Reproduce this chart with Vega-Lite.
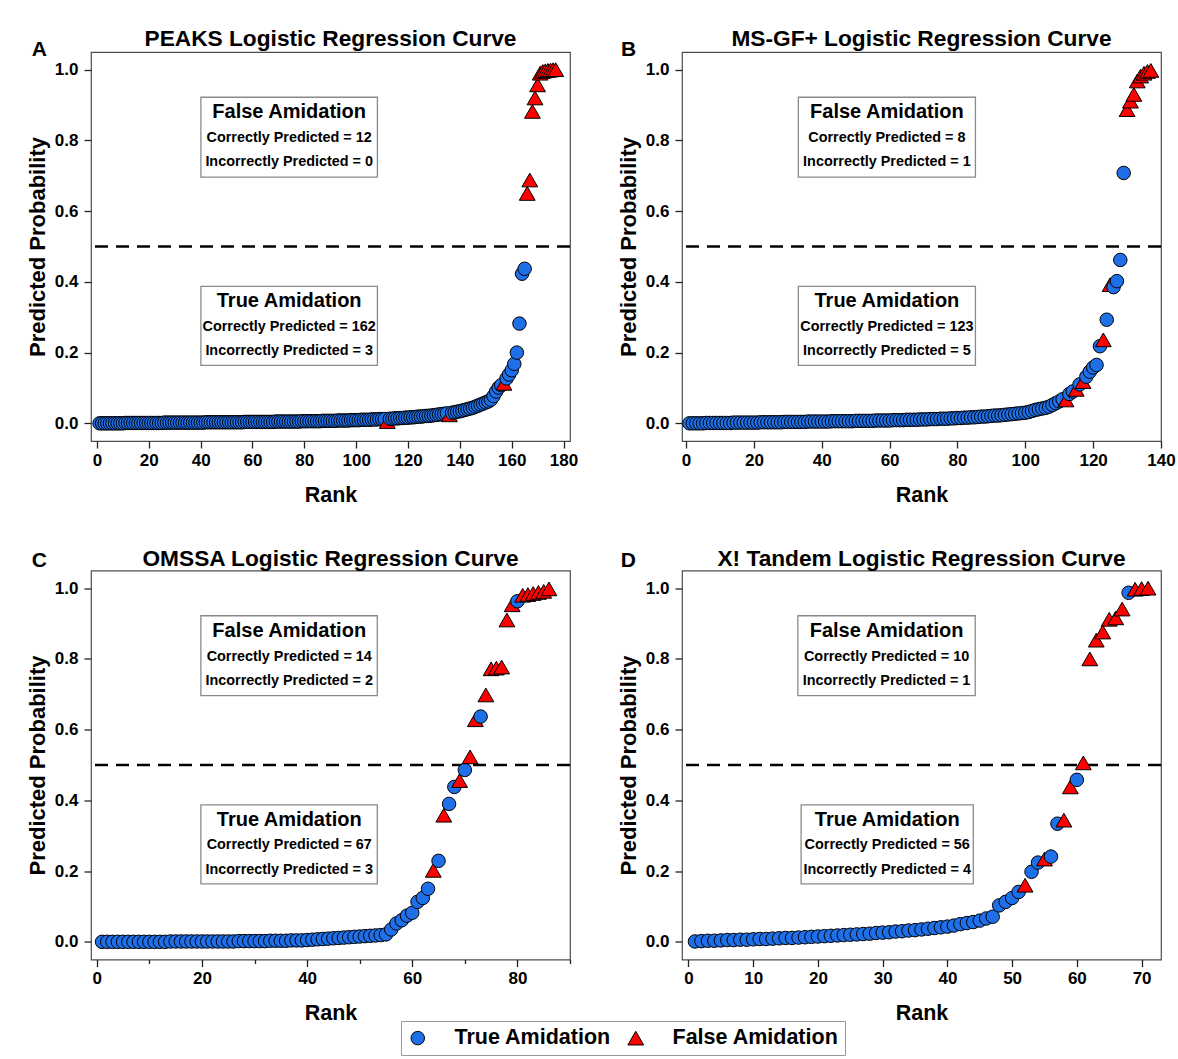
{
"$schema": "https://vega.github.io/schema/vega-lite/v6.json",
"padding": {"left": 25, "top": 27, "right": 10, "bottom": 3},
"background": "white",
"config": {
 "font": "Liberation Sans",
 "view": {"stroke": "#4d4d4d", "strokeWidth": 1.2},
 "axis": {"domain": false, "grid": false, "labelFontSize": 17, "labelFontWeight": "bold", "labelColor": "black", "titleFontWeight": "bold", "titleColor": "black", "tickColor": "#222", "tickWidth": 1.3, "tickSize": 7, "labelPadding": 4, "labelFlush": false, "labelOverlap": false},
 "axisX": {"titleFontSize": 21.5},
 "axisY": {"titleFontSize": 22},
 "title": {"fontSize": 22.7, "fontWeight": "bold", "color": "black", "anchor": "middle", "offset": 5, "baseline": "alphabetic", "frame": "group"}
},
"datasets": {
"A": [
{"r":1,"p":0.000,"t":"True"},{"r":2,"p":0.000,"t":"True"},{"r":3,"p":0.000,"t":"True"},{"r":4,"p":0.000,"t":"True"},{"r":5,"p":0.000,"t":"True"},{"r":6,"p":0.000,"t":"True"},{"r":7,"p":0.000,"t":"True"},{"r":8,"p":0.000,"t":"True"},{"r":9,"p":0.000,"t":"True"},{"r":10,"p":0.000,"t":"True"},
{"r":11,"p":0.001,"t":"True"},{"r":12,"p":0.001,"t":"True"},{"r":13,"p":0.001,"t":"True"},{"r":14,"p":0.001,"t":"True"},{"r":15,"p":0.001,"t":"True"},{"r":16,"p":0.001,"t":"True"},{"r":17,"p":0.001,"t":"True"},{"r":18,"p":0.001,"t":"True"},{"r":19,"p":0.001,"t":"True"},{"r":20,"p":0.001,"t":"True"},
{"r":21,"p":0.001,"t":"True"},{"r":22,"p":0.001,"t":"True"},{"r":23,"p":0.001,"t":"True"},{"r":24,"p":0.001,"t":"True"},{"r":25,"p":0.001,"t":"True"},{"r":26,"p":0.002,"t":"True"},{"r":27,"p":0.002,"t":"True"},{"r":28,"p":0.002,"t":"True"},{"r":29,"p":0.002,"t":"True"},{"r":30,"p":0.002,"t":"True"},
{"r":31,"p":0.002,"t":"True"},{"r":32,"p":0.002,"t":"True"},{"r":33,"p":0.002,"t":"True"},{"r":34,"p":0.002,"t":"True"},{"r":35,"p":0.002,"t":"True"},{"r":36,"p":0.002,"t":"True"},{"r":37,"p":0.002,"t":"True"},{"r":38,"p":0.002,"t":"True"},{"r":39,"p":0.002,"t":"True"},{"r":40,"p":0.002,"t":"True"},
{"r":41,"p":0.002,"t":"True"},{"r":42,"p":0.003,"t":"True"},{"r":43,"p":0.003,"t":"True"},{"r":44,"p":0.003,"t":"True"},{"r":45,"p":0.003,"t":"True"},{"r":46,"p":0.003,"t":"True"},{"r":47,"p":0.003,"t":"True"},{"r":48,"p":0.003,"t":"True"},{"r":49,"p":0.003,"t":"True"},{"r":50,"p":0.003,"t":"True"},
{"r":51,"p":0.003,"t":"True"},{"r":52,"p":0.003,"t":"True"},{"r":53,"p":0.003,"t":"True"},{"r":54,"p":0.003,"t":"True"},{"r":55,"p":0.003,"t":"True"},{"r":56,"p":0.003,"t":"True"},{"r":57,"p":0.004,"t":"True"},{"r":58,"p":0.004,"t":"True"},{"r":59,"p":0.004,"t":"True"},{"r":60,"p":0.004,"t":"True"},
{"r":61,"p":0.004,"t":"True"},{"r":62,"p":0.004,"t":"True"},{"r":63,"p":0.004,"t":"True"},{"r":64,"p":0.004,"t":"True"},{"r":65,"p":0.004,"t":"True"},{"r":66,"p":0.004,"t":"True"},{"r":67,"p":0.004,"t":"True"},{"r":68,"p":0.004,"t":"True"},{"r":69,"p":0.005,"t":"True"},{"r":70,"p":0.005,"t":"True"},
{"r":71,"p":0.005,"t":"True"},{"r":72,"p":0.005,"t":"True"},{"r":73,"p":0.005,"t":"True"},{"r":74,"p":0.005,"t":"True"},{"r":75,"p":0.005,"t":"True"},{"r":76,"p":0.005,"t":"True"},{"r":77,"p":0.005,"t":"True"},{"r":78,"p":0.005,"t":"True"},{"r":79,"p":0.006,"t":"True"},{"r":80,"p":0.006,"t":"True"},
{"r":81,"p":0.006,"t":"True"},{"r":82,"p":0.006,"t":"True"},{"r":83,"p":0.006,"t":"True"},{"r":84,"p":0.006,"t":"True"},{"r":85,"p":0.006,"t":"True"},{"r":86,"p":0.006,"t":"True"},{"r":87,"p":0.007,"t":"True"},{"r":88,"p":0.007,"t":"True"},{"r":89,"p":0.007,"t":"True"},{"r":90,"p":0.007,"t":"True"},
{"r":91,"p":0.007,"t":"True"},{"r":92,"p":0.007,"t":"True"},{"r":93,"p":0.008,"t":"True"},{"r":94,"p":0.008,"t":"True"},{"r":95,"p":0.008,"t":"True"},{"r":96,"p":0.008,"t":"True"},{"r":97,"p":0.008,"t":"True"},{"r":98,"p":0.009,"t":"True"},{"r":99,"p":0.009,"t":"True"},{"r":100,"p":0.009,"t":"True"},
{"r":101,"p":0.009,"t":"True"},{"r":102,"p":0.010,"t":"True"},{"r":103,"p":0.010,"t":"True"},{"r":104,"p":0.010,"t":"True"},{"r":105,"p":0.010,"t":"True"},{"r":106,"p":0.011,"t":"True"},{"r":107,"p":0.011,"t":"True"},{"r":108,"p":0.011,"t":"True"},{"r":109,"p":0.012,"t":"True"},{"r":110,"p":0.012,"t":"True"},
{"r":111,"p":0.012,"t":"True"},{"r":112,"p":0.005,"t":"False"},{"r":113,"p":0.013,"t":"True"},{"r":114,"p":0.013,"t":"True"},{"r":115,"p":0.014,"t":"True"},{"r":116,"p":0.014,"t":"True"},{"r":117,"p":0.015,"t":"True"},{"r":118,"p":0.015,"t":"True"},{"r":119,"p":0.016,"t":"True"},{"r":120,"p":0.016,"t":"True"},
{"r":121,"p":0.017,"t":"True"},{"r":122,"p":0.017,"t":"True"},{"r":123,"p":0.018,"t":"True"},{"r":124,"p":0.019,"t":"True"},{"r":125,"p":0.019,"t":"True"},{"r":126,"p":0.020,"t":"True"},{"r":127,"p":0.021,"t":"True"},{"r":128,"p":0.021,"t":"True"},{"r":129,"p":0.022,"t":"True"},{"r":130,"p":0.023,"t":"True"},
{"r":131,"p":0.024,"t":"True"},{"r":132,"p":0.025,"t":"True"},{"r":133,"p":0.026,"t":"True"},{"r":134,"p":0.027,"t":"True"},{"r":135,"p":0.028,"t":"True"},{"r":136,"p":0.024,"t":"False"},{"r":137,"p":0.030,"t":"True"},{"r":138,"p":0.031,"t":"True"},{"r":139,"p":0.033,"t":"True"},{"r":140,"p":0.034,"t":"True"},
{"r":141,"p":0.036,"t":"True"},{"r":142,"p":0.038,"t":"True"},{"r":143,"p":0.040,"t":"True"},{"r":144,"p":0.042,"t":"True"},{"r":145,"p":0.044,"t":"True"},{"r":146,"p":0.047,"t":"True"},{"r":147,"p":0.050,"t":"True"},{"r":148,"p":0.053,"t":"True"},{"r":149,"p":0.056,"t":"True"},{"r":150,"p":0.059,"t":"True"},
{"r":151,"p":0.062,"t":"True"},{"r":152,"p":0.067,"t":"True"},{"r":153,"p":0.077,"t":"True"},{"r":154,"p":0.090,"t":"True"},{"r":155,"p":0.101,"t":"True"},{"r":156,"p":0.108,"t":"True"},{"r":157,"p":0.113,"t":"False"},{"r":158,"p":0.127,"t":"True"},{"r":159,"p":0.138,"t":"True"},{"r":160,"p":0.150,"t":"True"},
{"r":161,"p":0.168,"t":"True"},{"r":162,"p":0.200,"t":"True"},{"r":163,"p":0.282,"t":"True"},{"r":164,"p":0.423,"t":"True"},{"r":165,"p":0.437,"t":"True"},{"r":166,"p":0.650,"t":"False"},{"r":167,"p":0.688,"t":"False"},{"r":168,"p":0.882,"t":"False"},{"r":169,"p":0.920,"t":"False"},{"r":170,"p":0.957,"t":"False"},
{"r":171,"p":0.990,"t":"False"},{"r":172,"p":0.995,"t":"False"},{"r":173,"p":0.997,"t":"False"},{"r":174,"p":0.998,"t":"False"},{"r":175,"p":0.999,"t":"False"},{"r":176,"p":1.000,"t":"False"},{"r":177,"p":1.000,"t":"False"}
],
"B": [
{"r":1,"p":0.000,"t":"True"},{"r":2,"p":0.000,"t":"True"},{"r":3,"p":0.000,"t":"True"},{"r":4,"p":0.000,"t":"True"},{"r":5,"p":0.000,"t":"True"},{"r":6,"p":0.001,"t":"True"},{"r":7,"p":0.001,"t":"True"},{"r":8,"p":0.001,"t":"True"},{"r":9,"p":0.001,"t":"True"},{"r":10,"p":0.001,"t":"True"},
{"r":11,"p":0.001,"t":"True"},{"r":12,"p":0.001,"t":"True"},{"r":13,"p":0.001,"t":"True"},{"r":14,"p":0.002,"t":"True"},{"r":15,"p":0.002,"t":"True"},{"r":16,"p":0.002,"t":"True"},{"r":17,"p":0.002,"t":"True"},{"r":18,"p":0.002,"t":"True"},{"r":19,"p":0.002,"t":"True"},{"r":20,"p":0.002,"t":"True"},
{"r":21,"p":0.002,"t":"True"},{"r":22,"p":0.003,"t":"True"},{"r":23,"p":0.003,"t":"True"},{"r":24,"p":0.003,"t":"True"},{"r":25,"p":0.003,"t":"True"},{"r":26,"p":0.003,"t":"True"},{"r":27,"p":0.003,"t":"True"},{"r":28,"p":0.003,"t":"True"},{"r":29,"p":0.004,"t":"True"},{"r":30,"p":0.004,"t":"True"},
{"r":31,"p":0.004,"t":"True"},{"r":32,"p":0.004,"t":"True"},{"r":33,"p":0.004,"t":"True"},{"r":34,"p":0.004,"t":"True"},{"r":35,"p":0.004,"t":"True"},{"r":36,"p":0.005,"t":"True"},{"r":37,"p":0.005,"t":"True"},{"r":38,"p":0.005,"t":"True"},{"r":39,"p":0.005,"t":"True"},{"r":40,"p":0.005,"t":"True"},
{"r":41,"p":0.005,"t":"True"},{"r":42,"p":0.005,"t":"True"},{"r":43,"p":0.006,"t":"True"},{"r":44,"p":0.006,"t":"True"},{"r":45,"p":0.006,"t":"True"},{"r":46,"p":0.006,"t":"True"},{"r":47,"p":0.006,"t":"True"},{"r":48,"p":0.006,"t":"True"},{"r":49,"p":0.006,"t":"True"},{"r":50,"p":0.007,"t":"True"},
{"r":51,"p":0.007,"t":"True"},{"r":52,"p":0.007,"t":"True"},{"r":53,"p":0.007,"t":"True"},{"r":54,"p":0.007,"t":"True"},{"r":55,"p":0.007,"t":"True"},{"r":56,"p":0.008,"t":"True"},{"r":57,"p":0.008,"t":"True"},{"r":58,"p":0.008,"t":"True"},{"r":59,"p":0.008,"t":"True"},{"r":60,"p":0.008,"t":"True"},
{"r":61,"p":0.009,"t":"True"},{"r":62,"p":0.009,"t":"True"},{"r":63,"p":0.009,"t":"True"},{"r":64,"p":0.009,"t":"True"},{"r":65,"p":0.010,"t":"True"},{"r":66,"p":0.010,"t":"True"},{"r":67,"p":0.010,"t":"True"},{"r":68,"p":0.010,"t":"True"},{"r":69,"p":0.011,"t":"True"},{"r":70,"p":0.011,"t":"True"},
{"r":71,"p":0.011,"t":"True"},{"r":72,"p":0.012,"t":"True"},{"r":73,"p":0.012,"t":"True"},{"r":74,"p":0.012,"t":"True"},{"r":75,"p":0.013,"t":"True"},{"r":76,"p":0.013,"t":"True"},{"r":77,"p":0.013,"t":"True"},{"r":78,"p":0.014,"t":"True"},{"r":79,"p":0.014,"t":"True"},{"r":80,"p":0.015,"t":"True"},
{"r":81,"p":0.015,"t":"True"},{"r":82,"p":0.016,"t":"True"},{"r":83,"p":0.016,"t":"True"},{"r":84,"p":0.017,"t":"True"},{"r":85,"p":0.017,"t":"True"},{"r":86,"p":0.018,"t":"True"},{"r":87,"p":0.019,"t":"True"},{"r":88,"p":0.019,"t":"True"},{"r":89,"p":0.020,"t":"True"},{"r":90,"p":0.021,"t":"True"},
{"r":91,"p":0.022,"t":"True"},{"r":92,"p":0.022,"t":"True"},{"r":93,"p":0.023,"t":"True"},{"r":94,"p":0.024,"t":"True"},{"r":95,"p":0.025,"t":"True"},{"r":96,"p":0.026,"t":"True"},{"r":97,"p":0.027,"t":"True"},{"r":98,"p":0.028,"t":"True"},{"r":99,"p":0.029,"t":"True"},{"r":100,"p":0.030,"t":"True"},
{"r":101,"p":0.032,"t":"True"},{"r":102,"p":0.035,"t":"True"},{"r":103,"p":0.038,"t":"True"},{"r":104,"p":0.040,"t":"True"},{"r":105,"p":0.042,"t":"True"},{"r":106,"p":0.044,"t":"True"},{"r":107,"p":0.047,"t":"True"},{"r":108,"p":0.052,"t":"True"},{"r":109,"p":0.057,"t":"True"},{"r":110,"p":0.062,"t":"True"},
{"r":111,"p":0.068,"t":"True"},{"r":112,"p":0.066,"t":"False"},{"r":113,"p":0.083,"t":"True"},{"r":114,"p":0.090,"t":"True"},{"r":115,"p":0.096,"t":"False"},{"r":116,"p":0.110,"t":"True"},{"r":117,"p":0.118,"t":"False"},{"r":118,"p":0.132,"t":"True"},{"r":119,"p":0.146,"t":"True"},{"r":120,"p":0.158,"t":"True"},
{"r":121,"p":0.165,"t":"True"},{"r":122,"p":0.218,"t":"True"},{"r":123,"p":0.236,"t":"False"},{"r":124,"p":0.293,"t":"True"},{"r":125,"p":0.392,"t":"False"},{"r":126,"p":0.385,"t":"True"},{"r":127,"p":0.402,"t":"True"},{"r":128,"p":0.462,"t":"True"},{"r":129,"p":0.708,"t":"True"},{"r":130,"p":0.887,"t":"False"},
{"r":131,"p":0.911,"t":"False"},{"r":132,"p":0.930,"t":"False"},{"r":133,"p":0.968,"t":"False"},{"r":134,"p":0.982,"t":"False"},{"r":135,"p":0.990,"t":"False"},{"r":136,"p":0.995,"t":"False"},{"r":137,"p":0.998,"t":"False"}
],
"C": [
{"r":1,"p":0.000,"t":"True"},{"r":2,"p":0.000,"t":"True"},{"r":3,"p":0.000,"t":"True"},{"r":4,"p":0.000,"t":"True"},{"r":5,"p":0.000,"t":"True"},{"r":6,"p":0.000,"t":"True"},{"r":7,"p":0.000,"t":"True"},{"r":8,"p":0.000,"t":"True"},{"r":9,"p":0.000,"t":"True"},{"r":10,"p":0.000,"t":"True"},
{"r":11,"p":0.000,"t":"True"},{"r":12,"p":0.000,"t":"True"},{"r":13,"p":0.000,"t":"True"},{"r":14,"p":0.001,"t":"True"},{"r":15,"p":0.001,"t":"True"},{"r":16,"p":0.001,"t":"True"},{"r":17,"p":0.001,"t":"True"},{"r":18,"p":0.001,"t":"True"},{"r":19,"p":0.001,"t":"True"},{"r":20,"p":0.001,"t":"True"},
{"r":21,"p":0.001,"t":"True"},{"r":22,"p":0.001,"t":"True"},{"r":23,"p":0.001,"t":"True"},{"r":24,"p":0.001,"t":"True"},{"r":25,"p":0.001,"t":"True"},{"r":26,"p":0.001,"t":"True"},{"r":27,"p":0.002,"t":"True"},{"r":28,"p":0.002,"t":"True"},{"r":29,"p":0.002,"t":"True"},{"r":30,"p":0.002,"t":"True"},
{"r":31,"p":0.002,"t":"True"},{"r":32,"p":0.002,"t":"True"},{"r":33,"p":0.003,"t":"True"},{"r":34,"p":0.003,"t":"True"},{"r":35,"p":0.003,"t":"True"},{"r":36,"p":0.003,"t":"True"},{"r":37,"p":0.004,"t":"True"},{"r":38,"p":0.004,"t":"True"},{"r":39,"p":0.004,"t":"True"},{"r":40,"p":0.005,"t":"True"},
{"r":41,"p":0.006,"t":"True"},{"r":42,"p":0.007,"t":"True"},{"r":43,"p":0.008,"t":"True"},{"r":44,"p":0.009,"t":"True"},{"r":45,"p":0.010,"t":"True"},{"r":46,"p":0.011,"t":"True"},{"r":47,"p":0.012,"t":"True"},{"r":48,"p":0.013,"t":"True"},{"r":49,"p":0.014,"t":"True"},{"r":50,"p":0.015,"t":"True"},
{"r":51,"p":0.016,"t":"True"},{"r":52,"p":0.017,"t":"True"},{"r":53,"p":0.018,"t":"True"},{"r":54,"p":0.019,"t":"True"},{"r":55,"p":0.021,"t":"True"},{"r":56,"p":0.035,"t":"True"},{"r":57,"p":0.052,"t":"True"},{"r":58,"p":0.061,"t":"True"},{"r":59,"p":0.074,"t":"True"},{"r":60,"p":0.082,"t":"True"},
{"r":61,"p":0.113,"t":"True"},{"r":62,"p":0.124,"t":"True"},{"r":63,"p":0.150,"t":"True"},{"r":64,"p":0.202,"t":"False"},{"r":65,"p":0.229,"t":"True"},{"r":66,"p":0.358,"t":"False"},{"r":67,"p":0.390,"t":"True"},{"r":68,"p":0.438,"t":"True"},{"r":69,"p":0.456,"t":"False"},{"r":70,"p":0.486,"t":"True"},
{"r":71,"p":0.523,"t":"False"},{"r":72,"p":0.628,"t":"False"},{"r":73,"p":0.637,"t":"True"},{"r":74,"p":0.698,"t":"False"},{"r":75,"p":0.772,"t":"False"},{"r":76,"p":0.774,"t":"False"},{"r":77,"p":0.777,"t":"False"},{"r":78,"p":0.910,"t":"False"},{"r":79,"p":0.953,"t":"False"},{"r":80,"p":0.963,"t":"True"},
{"r":81,"p":0.980,"t":"False"},{"r":82,"p":0.982,"t":"False"},{"r":83,"p":0.985,"t":"False"},{"r":84,"p":0.988,"t":"False"},{"r":85,"p":0.991,"t":"False"},{"r":86,"p":0.998,"t":"False"}
],
"D": [
{"r":1,"p":0.001,"t":"True"},{"r":2,"p":0.002,"t":"True"},{"r":3,"p":0.003,"t":"True"},{"r":4,"p":0.003,"t":"True"},{"r":5,"p":0.004,"t":"True"},{"r":6,"p":0.005,"t":"True"},{"r":7,"p":0.005,"t":"True"},{"r":8,"p":0.006,"t":"True"},{"r":9,"p":0.006,"t":"True"},{"r":10,"p":0.007,"t":"True"},
{"r":11,"p":0.008,"t":"True"},{"r":12,"p":0.008,"t":"True"},{"r":13,"p":0.009,"t":"True"},{"r":14,"p":0.010,"t":"True"},{"r":15,"p":0.011,"t":"True"},{"r":16,"p":0.011,"t":"True"},{"r":17,"p":0.012,"t":"True"},{"r":18,"p":0.013,"t":"True"},{"r":19,"p":0.014,"t":"True"},{"r":20,"p":0.015,"t":"True"},
{"r":21,"p":0.016,"t":"True"},{"r":22,"p":0.017,"t":"True"},{"r":23,"p":0.018,"t":"True"},{"r":24,"p":0.019,"t":"True"},{"r":25,"p":0.020,"t":"True"},{"r":26,"p":0.021,"t":"True"},{"r":27,"p":0.022,"t":"True"},{"r":28,"p":0.023,"t":"True"},{"r":29,"p":0.025,"t":"True"},{"r":30,"p":0.026,"t":"True"},
{"r":31,"p":0.027,"t":"True"},{"r":32,"p":0.029,"t":"True"},{"r":33,"p":0.030,"t":"True"},{"r":34,"p":0.032,"t":"True"},{"r":35,"p":0.033,"t":"True"},{"r":36,"p":0.035,"t":"True"},{"r":37,"p":0.037,"t":"True"},{"r":38,"p":0.039,"t":"True"},{"r":39,"p":0.041,"t":"True"},{"r":40,"p":0.043,"t":"True"},
{"r":41,"p":0.046,"t":"True"},{"r":42,"p":0.050,"t":"True"},{"r":43,"p":0.053,"t":"True"},{"r":44,"p":0.056,"t":"True"},{"r":45,"p":0.060,"t":"True"},{"r":46,"p":0.066,"t":"True"},{"r":47,"p":0.071,"t":"True"},{"r":48,"p":0.103,"t":"True"},{"r":49,"p":0.113,"t":"True"},{"r":50,"p":0.124,"t":"True"},
{"r":51,"p":0.141,"t":"True"},{"r":52,"p":0.160,"t":"False"},{"r":53,"p":0.198,"t":"True"},{"r":54,"p":0.224,"t":"True"},{"r":55,"p":0.234,"t":"False"},{"r":56,"p":0.241,"t":"True"},{"r":57,"p":0.334,"t":"True"},{"r":58,"p":0.344,"t":"False"},{"r":59,"p":0.438,"t":"False"},{"r":60,"p":0.458,"t":"True"},
{"r":61,"p":0.506,"t":"False"},{"r":62,"p":0.800,"t":"False"},{"r":63,"p":0.853,"t":"False"},{"r":64,"p":0.876,"t":"False"},{"r":65,"p":0.912,"t":"False"},{"r":66,"p":0.916,"t":"False"},{"r":67,"p":0.941,"t":"False"},{"r":68,"p":0.987,"t":"True"},{"r":69,"p":0.997,"t":"False"},{"r":70,"p":0.999,"t":"False"},{"r":71,"p":1.000,"t":"False"}
],
"threshold": [{"cut": 0.5}],
"boxA": [{"x1":40.1,"x2":108.2,"y1":0.922,"y2":0.696},{"x1":40.1,"x2":108.2,"y1":0.387,"y2":0.164}],
"boxB": [{"x1":33.1,"x2":85.3,"y1":0.922,"y2":0.696},{"x1":33.1,"x2":85.3,"y1":0.387,"y2":0.164}],
"boxC": [{"x1":19.8,"x2":53.35,"y1":0.922,"y2":0.696},{"x1":19.8,"x2":53.35,"y1":0.387,"y2":0.164}],
"boxD": [{"x1":16.9,"x2":44.3,"y1":0.922,"y2":0.696},{"x1":17.4,"x2":44.0,"y1":0.387,"y2":0.164}],
"txtA": [
{"k":"h","x":74.15,"y":0.862,"s":"False Amidation"},{"k":"b","x":74.15,"y":0.7955,"s":"Correctly Predicted = 12"},{"k":"b","x":74.15,"y":0.727,"s":"Incorrectly Predicted = 0"},
{"k":"h","x":74.15,"y":0.328,"s":"True Amidation"},{"k":"b","x":74.15,"y":0.262,"s":"Correctly Predicted = 162"},{"k":"b","x":74.15,"y":0.193,"s":"Incorrectly Predicted = 3"},
{"k":"l","x":-22.2,"y":1.057,"s":"A"}],
"txtB": [
{"k":"h","x":59.2,"y":0.862,"s":"False Amidation"},{"k":"b","x":59.2,"y":0.7955,"s":"Correctly Predicted = 8"},{"k":"b","x":59.2,"y":0.727,"s":"Incorrectly Predicted = 1"},
{"k":"h","x":59.2,"y":0.328,"s":"True Amidation"},{"k":"b","x":59.2,"y":0.262,"s":"Correctly Predicted = 123"},{"k":"b","x":59.2,"y":0.193,"s":"Incorrectly Predicted = 5"},
{"k":"l","x":-16.96,"y":1.057,"s":"B"}],
"txtC": [
{"k":"h","x":36.6,"y":0.862,"s":"False Amidation"},{"k":"b","x":36.6,"y":0.7955,"s":"Correctly Predicted = 14"},{"k":"b","x":36.6,"y":0.727,"s":"Incorrectly Predicted = 2"},
{"k":"h","x":36.6,"y":0.328,"s":"True Amidation"},{"k":"b","x":36.6,"y":0.262,"s":"Correctly Predicted = 67"},{"k":"b","x":36.6,"y":0.193,"s":"Incorrectly Predicted = 3"},
{"k":"l","x":-10.94,"y":1.077,"s":"C"}],
"txtD": [
{"k":"h","x":30.6,"y":0.862,"s":"False Amidation"},{"k":"b","x":30.6,"y":0.7955,"s":"Correctly Predicted = 10"},{"k":"b","x":30.6,"y":0.727,"s":"Incorrectly Predicted = 1"},
{"k":"h","x":30.7,"y":0.328,"s":"True Amidation"},{"k":"b","x":30.7,"y":0.262,"s":"Correctly Predicted = 56"},{"k":"b","x":30.7,"y":0.193,"s":"Incorrectly Predicted = 4"},
{"k":"l","x":-9.28,"y":1.077,"s":"D"}]
},
"columns": 2,
"spacing": {"row": 129.5, "column": 112},
"bounds": "flush",
"concat": [
{
 "width": 479, "height": 389,
 "title": {"text": "PEAKS Logistic Regression Curve", "dy": 17.5},
 "layer": [
  {"data": {"name": "threshold"}, "mark": {"type": "rule", "strokeDash": [13, 8], "strokeWidth": 2.5, "color": "black"}, "encoding": {"y": {"field": "cut", "type": "quantitative"}}},
  {"data": {"name": "A"},
   "mark": {"type": "point", "filled": true, "opacity": 1, "stroke": "black", "strokeWidth": 1},
   "encoding": {
    "x": {"field": "r", "type": "quantitative", "scale": {"domain": [-2.3, 182.5], "nice": false, "zero": false},
          "axis": {"title": "Rank", "values": [0,10,20,30,40,50,60,70,80,90,100,110,120,130,140,150,160,170,180], "labelExpr": "datum.value % 20 == 0 ? datum.label : ''", "tickDash": {"condition": {"test": "datum.value % 20 == 0", "value": [10, 0]}, "value": [4, 20]}, "titlePadding": 16}},
    "y": {"field": "p", "type": "quantitative", "scale": {"domain": [-0.05, 1.05], "nice": false, "zero": false},
          "axis": {"title": "Predicted Probability", "values": [0,0.1,0.2,0.3,0.4,0.5,0.6,0.7,0.8,0.9,1], "labelExpr": "round(datum.value*10) % 2 == 0 ? format(datum.value, '.1f') : ''", "tickDash": {"condition": {"test": "round(datum.value*10) % 2 == 0", "value": [10, 0]}, "value": [4, 20]}, "labelPadding": 6, "titlePadding": 5}},
    "shape": {"field": "t", "type": "nominal", "scale": {"domain": ["True", "False"], "range": ["circle", "triangle-up"]},
              "legend": {"orient": "none", "legendX": 310, "legendY": 969, "direction": "horizontal", "title": null, "labelExpr": "datum.label + ' Amidation'", "labelFontSize": 21.5, "labelFontWeight": "bold", "labelColor": "black", "labelLimit": 400, "symbolSize": 500, "symbolStrokeColor": "black", "symbolStrokeWidth": 1, "strokeColor": "#999", "fillColor": "white", "padding": 6, "labelOffset": 26, "columnPadding": 14}},
    "color": {"field": "t", "type": "nominal", "scale": {"domain": ["True", "False"], "range": ["#1f6fe8", "#ff0000"]},
              "legend": {"orient": "none", "legendX": 310, "legendY": 969, "direction": "horizontal", "title": null, "labelExpr": "datum.label + ' Amidation'", "labelFontSize": 21.5, "labelFontWeight": "bold", "labelColor": "black", "labelLimit": 400, "symbolSize": 500, "symbolStrokeColor": "black", "symbolStrokeWidth": 1, "strokeColor": "#999", "fillColor": "white", "padding": 6, "labelOffset": 26, "columnPadding": 14}},
    "size": {"field": "t", "type": "nominal", "scale": {"domain": ["True", "False"], "range": [182, 250]}, "legend": null}
   }},
  {"data": {"name": "boxA"}, "mark": {"type": "rect", "fill": "white", "stroke": "#8a8a8a", "strokeWidth": 1.3},
   "encoding": {"x": {"field": "x1", "type": "quantitative"}, "x2": {"field": "x2"}, "y": {"field": "y1", "type": "quantitative"}, "y2": {"field": "y2"}}},
  {"data": {"name": "txtA"}, "transform": [{"filter": "datum.k == 'h'"}], "mark": {"type": "text", "fontSize": 20, "fontWeight": "bold", "baseline": "alphabetic", "color": "black"},
   "encoding": {"x": {"field": "x", "type": "quantitative"}, "y": {"field": "y", "type": "quantitative"}, "text": {"field": "s"}}},
  {"data": {"name": "txtA"}, "transform": [{"filter": "datum.k == 'b'"}], "mark": {"type": "text", "fontSize": 14.4, "fontWeight": "bold", "baseline": "alphabetic", "color": "black"},
   "encoding": {"x": {"field": "x", "type": "quantitative"}, "y": {"field": "y", "type": "quantitative"}, "text": {"field": "s"}}},
  {"data": {"name": "txtA"}, "transform": [{"filter": "datum.k == 'l'"}], "mark": {"type": "text", "fontSize": 21, "fontWeight": "bold", "baseline": "middle", "color": "black", "clip": false},
   "encoding": {"x": {"field": "x", "type": "quantitative"}, "y": {"field": "y", "type": "quantitative"}, "text": {"field": "s"}}}
 ]
},
{
 "width": 479, "height": 389,
 "title": {"text": "MS-GF+ Logistic Regression Curve", "dy": 17.5},
 "layer": [
  {"data": {"name": "threshold"}, "mark": {"type": "rule", "strokeDash": [13, 8], "strokeWidth": 2.5, "color": "black"}, "encoding": {"y": {"field": "cut", "type": "quantitative"}}},
  {"data": {"name": "B"},
   "mark": {"type": "point", "filled": true, "opacity": 1, "stroke": "black", "strokeWidth": 1},
   "encoding": {
    "x": {"field": "r", "type": "quantitative", "scale": {"domain": [-1.2, 140], "nice": false, "zero": false},
          "axis": {"title": "Rank", "values": [0,10,20,30,40,50,60,70,80,90,100,110,120,130,140], "labelExpr": "datum.value % 20 == 0 ? datum.label : ''", "tickDash": {"condition": {"test": "datum.value % 20 == 0", "value": [10, 0]}, "value": [4, 20]}, "titlePadding": 16}},
    "y": {"field": "p", "type": "quantitative", "scale": {"domain": [-0.05, 1.05], "nice": false, "zero": false},
          "axis": {"title": "Predicted Probability", "values": [0,0.1,0.2,0.3,0.4,0.5,0.6,0.7,0.8,0.9,1], "labelExpr": "round(datum.value*10) % 2 == 0 ? format(datum.value, '.1f') : ''", "tickDash": {"condition": {"test": "round(datum.value*10) % 2 == 0", "value": [10, 0]}, "value": [4, 20]}, "labelPadding": 6, "titlePadding": 5}},
    "shape": {"field": "t", "type": "nominal", "scale": {"domain": ["True", "False"], "range": ["circle", "triangle-up"]}},
    "color": {"field": "t", "type": "nominal", "scale": {"domain": ["True", "False"], "range": ["#1f6fe8", "#ff0000"]}},
    "size": {"field": "t", "type": "nominal", "scale": {"domain": ["True", "False"], "range": [182, 250]}, "legend": null}
   }},
  {"data": {"name": "boxB"}, "mark": {"type": "rect", "fill": "white", "stroke": "#8a8a8a", "strokeWidth": 1.3},
   "encoding": {"x": {"field": "x1", "type": "quantitative"}, "x2": {"field": "x2"}, "y": {"field": "y1", "type": "quantitative"}, "y2": {"field": "y2"}}},
  {"data": {"name": "txtB"}, "transform": [{"filter": "datum.k == 'h'"}], "mark": {"type": "text", "fontSize": 20, "fontWeight": "bold", "baseline": "alphabetic", "color": "black"},
   "encoding": {"x": {"field": "x", "type": "quantitative"}, "y": {"field": "y", "type": "quantitative"}, "text": {"field": "s"}}},
  {"data": {"name": "txtB"}, "transform": [{"filter": "datum.k == 'b'"}], "mark": {"type": "text", "fontSize": 14.4, "fontWeight": "bold", "baseline": "alphabetic", "color": "black"},
   "encoding": {"x": {"field": "x", "type": "quantitative"}, "y": {"field": "y", "type": "quantitative"}, "text": {"field": "s"}}},
  {"data": {"name": "txtB"}, "transform": [{"filter": "datum.k == 'l'"}], "mark": {"type": "text", "fontSize": 21, "fontWeight": "bold", "baseline": "middle", "color": "black", "clip": false},
   "encoding": {"x": {"field": "x", "type": "quantitative"}, "y": {"field": "y", "type": "quantitative"}, "text": {"field": "s"}}}
 ]
},
{
 "width": 479, "height": 389,
 "title": {"text": "OMSSA Logistic Regression Curve", "dy": 25.5},
 "layer": [
  {"data": {"name": "threshold"}, "mark": {"type": "rule", "strokeDash": [13, 8], "strokeWidth": 2.5, "color": "black"}, "encoding": {"y": {"field": "cut", "type": "quantitative"}}},
  {"data": {"name": "C"},
   "mark": {"type": "point", "filled": true, "opacity": 1, "stroke": "black", "strokeWidth": 1},
   "encoding": {
    "x": {"field": "r", "type": "quantitative", "scale": {"domain": [-1.1, 90], "nice": false, "zero": false},
          "axis": {"title": "Rank", "values": [0,10,20,30,40,50,60,70,80,90], "labelExpr": "datum.value % 20 == 0 ? datum.label : ''", "tickDash": {"condition": {"test": "datum.value % 20 == 0", "value": [10, 0]}, "value": [4, 20]}, "titlePadding": 16}},
    "y": {"field": "p", "type": "quantitative", "scale": {"domain": [-0.05, 1.05], "nice": false, "zero": false},
          "axis": {"title": "Predicted Probability", "values": [0,0.1,0.2,0.3,0.4,0.5,0.6,0.7,0.8,0.9,1], "labelExpr": "round(datum.value*10) % 2 == 0 ? format(datum.value, '.1f') : ''", "tickDash": {"condition": {"test": "round(datum.value*10) % 2 == 0", "value": [10, 0]}, "value": [4, 20]}, "labelPadding": 6, "titlePadding": 5}},
    "shape": {"field": "t", "type": "nominal", "scale": {"domain": ["True", "False"], "range": ["circle", "triangle-up"]}},
    "color": {"field": "t", "type": "nominal", "scale": {"domain": ["True", "False"], "range": ["#1f6fe8", "#ff0000"]}},
    "size": {"field": "t", "type": "nominal", "scale": {"domain": ["True", "False"], "range": [182, 250]}, "legend": null}
   }},
  {"data": {"name": "boxC"}, "mark": {"type": "rect", "fill": "white", "stroke": "#8a8a8a", "strokeWidth": 1.3},
   "encoding": {"x": {"field": "x1", "type": "quantitative"}, "x2": {"field": "x2"}, "y": {"field": "y1", "type": "quantitative"}, "y2": {"field": "y2"}}},
  {"data": {"name": "txtC"}, "transform": [{"filter": "datum.k == 'h'"}], "mark": {"type": "text", "fontSize": 20, "fontWeight": "bold", "baseline": "alphabetic", "color": "black"},
   "encoding": {"x": {"field": "x", "type": "quantitative"}, "y": {"field": "y", "type": "quantitative"}, "text": {"field": "s"}}},
  {"data": {"name": "txtC"}, "transform": [{"filter": "datum.k == 'b'"}], "mark": {"type": "text", "fontSize": 14.4, "fontWeight": "bold", "baseline": "alphabetic", "color": "black"},
   "encoding": {"x": {"field": "x", "type": "quantitative"}, "y": {"field": "y", "type": "quantitative"}, "text": {"field": "s"}}},
  {"data": {"name": "txtC"}, "transform": [{"filter": "datum.k == 'l'"}], "mark": {"type": "text", "fontSize": 21, "fontWeight": "bold", "baseline": "middle", "color": "black", "clip": false},
   "encoding": {"x": {"field": "x", "type": "quantitative"}, "y": {"field": "y", "type": "quantitative"}, "text": {"field": "s"}}}
 ]
},
{
 "width": 479, "height": 389,
 "title": {"text": "X! Tandem Logistic Regression Curve", "dy": 25.5},
 "layer": [
  {"data": {"name": "threshold"}, "mark": {"type": "rule", "strokeDash": [13, 8], "strokeWidth": 2.5, "color": "black"}, "encoding": {"y": {"field": "cut", "type": "quantitative"}}},
  {"data": {"name": "D"},
   "mark": {"type": "point", "filled": true, "opacity": 1, "stroke": "black", "strokeWidth": 1},
   "encoding": {
    "x": {"field": "r", "type": "quantitative", "scale": {"domain": [-1, 73], "nice": false, "zero": false},
          "axis": {"title": "Rank", "values": [0,5,10,15,20,25,30,35,40,45,50,55,60,65,70], "labelExpr": "datum.value % 10 == 0 ? datum.label : ''", "tickDash": {"condition": {"test": "datum.value % 10 == 0", "value": [10, 0]}, "value": [4, 20]}, "titlePadding": 16}},
    "y": {"field": "p", "type": "quantitative", "scale": {"domain": [-0.05, 1.05], "nice": false, "zero": false},
          "axis": {"title": "Predicted Probability", "values": [0,0.1,0.2,0.3,0.4,0.5,0.6,0.7,0.8,0.9,1], "labelExpr": "round(datum.value*10) % 2 == 0 ? format(datum.value, '.1f') : ''", "tickDash": {"condition": {"test": "round(datum.value*10) % 2 == 0", "value": [10, 0]}, "value": [4, 20]}, "labelPadding": 6, "titlePadding": 5}},
    "shape": {"field": "t", "type": "nominal", "scale": {"domain": ["True", "False"], "range": ["circle", "triangle-up"]}},
    "color": {"field": "t", "type": "nominal", "scale": {"domain": ["True", "False"], "range": ["#1f6fe8", "#ff0000"]}},
    "size": {"field": "t", "type": "nominal", "scale": {"domain": ["True", "False"], "range": [182, 250]}, "legend": null}
   }},
  {"data": {"name": "boxD"}, "mark": {"type": "rect", "fill": "white", "stroke": "#8a8a8a", "strokeWidth": 1.3},
   "encoding": {"x": {"field": "x1", "type": "quantitative"}, "x2": {"field": "x2"}, "y": {"field": "y1", "type": "quantitative"}, "y2": {"field": "y2"}}},
  {"data": {"name": "txtD"}, "transform": [{"filter": "datum.k == 'h'"}], "mark": {"type": "text", "fontSize": 20, "fontWeight": "bold", "baseline": "alphabetic", "color": "black"},
   "encoding": {"x": {"field": "x", "type": "quantitative"}, "y": {"field": "y", "type": "quantitative"}, "text": {"field": "s"}}},
  {"data": {"name": "txtD"}, "transform": [{"filter": "datum.k == 'b'"}], "mark": {"type": "text", "fontSize": 14.4, "fontWeight": "bold", "baseline": "alphabetic", "color": "black"},
   "encoding": {"x": {"field": "x", "type": "quantitative"}, "y": {"field": "y", "type": "quantitative"}, "text": {"field": "s"}}},
  {"data": {"name": "txtD"}, "transform": [{"filter": "datum.k == 'l'"}], "mark": {"type": "text", "fontSize": 21, "fontWeight": "bold", "baseline": "middle", "color": "black", "clip": false},
   "encoding": {"x": {"field": "x", "type": "quantitative"}, "y": {"field": "y", "type": "quantitative"}, "text": {"field": "s"}}}
 ]
}
]
}
